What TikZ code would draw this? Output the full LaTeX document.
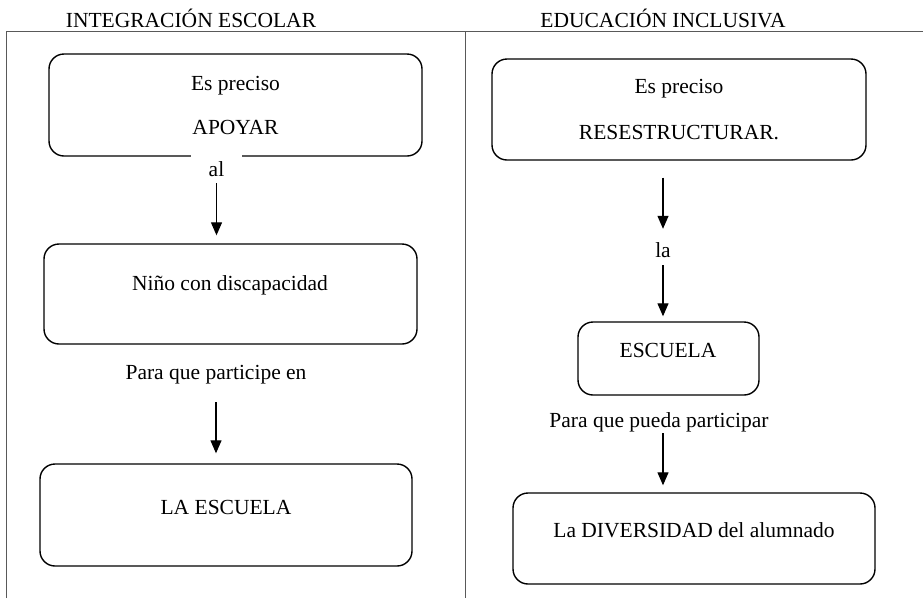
\documentclass[tikz,border=0pt]{standalone}
\usepackage{fontspec}
\setmainfont{Liberation Serif}
\usetikzlibrary{arrows.meta}
\begin{document}
\begin{tikzpicture}[x=1pt,y=-1pt,
  every node/.style={font=\fontsize{21.5}{26}\selectfont},
  box/.style={draw,line width=1.4pt,rounded corners=15pt,inner sep=0pt},
  txt/.style={inner sep=0pt},
  lbl/.style={inner sep=0pt,fill=white},
  arr/.style={line width=1.2pt,-{Triangle[width=11pt,length=13pt]}},
  grid/.style={line width=1pt,black!65}]
\useasboundingbox (0,0) rectangle (923,598);
% table
\coordinate (tl) at (6,31);
\coordinate (tr) at (923,31);
\coordinate (bl) at (6,598);
\coordinate (tm) at (465,31);
\coordinate (bm) at (465,598);
\draw[grid] (bl) -- (tl) -- (tr);
\draw[grid] (tm) -- (bm);
\node[txt] (h1) at (191,18) {INTEGRACIÓN ESCOLAR};
\node[txt] (h2) at (663,18) {EDUCACIÓN INCLUSIVA};
% left column
\node[box,minimum width=373pt,minimum height=102pt] (b1) at (235.5,105) {};
\node[txt,align=center,font=\fontsize{21.5}{44}\selectfont] (t1) at (235.5,105) {Es preciso\\APOYAR};
\node[lbl,minimum width=51pt,minimum height=28pt] (al) at (216.5,169) {al};
\node[box,minimum width=373pt,minimum height=100pt] (b2) at (230.5,294) {};
\node[txt] (t2) at (230,285) {Niño con discapacidad};
\node[txt,minimum height=54pt] (p1) at (216,375) {Para que participe en};
\node[box,minimum width=372pt,minimum height=102pt] (b3) at (226,515) {};
\node[txt] (t3) at (226,507) {LA ESCUELA};
\draw[arr,shorten >=8pt] (al.south) -- (al.south |- b2.north);
\draw[arr,shorten >=10pt] (p1.south) -- (p1.south |- b3.north);
% right column
\node[box,minimum width=374pt,minimum height=101pt] (r1) at (679,109.5) {};
\node[txt,align=center,font=\fontsize{21.5}{46}\selectfont] (s1) at (679,110) {Es preciso\\RESESTRUCTURAR.};
\node[txt,minimum height=30pt] (la) at (663,250) {la};
\node[box,minimum width=181pt,minimum height=73pt] (r2) at (668.5,358.5) {};
\node[txt] (s2) at (668,350) {ESCUELA};
\node[txt,minimum height=22pt] (p2) at (659,422) {Para que pueda participar};
\node[box,minimum width=362pt,minimum height=91pt] (r3) at (694,538.5) {};
\node[txt] (s3) at (694,530) {La DIVERSIDAD del alumnado};
\draw[arr,shorten <=17pt,shorten >=6pt] (la.north |- r1.south) -- (la.north);
\draw[arr,shorten >=5pt] (la.south) -- (la.south |- r2.north);
\draw[arr,shorten >=7pt] (la |- p2.south) -- (la |- r3.north);
\end{tikzpicture}
\end{document}
